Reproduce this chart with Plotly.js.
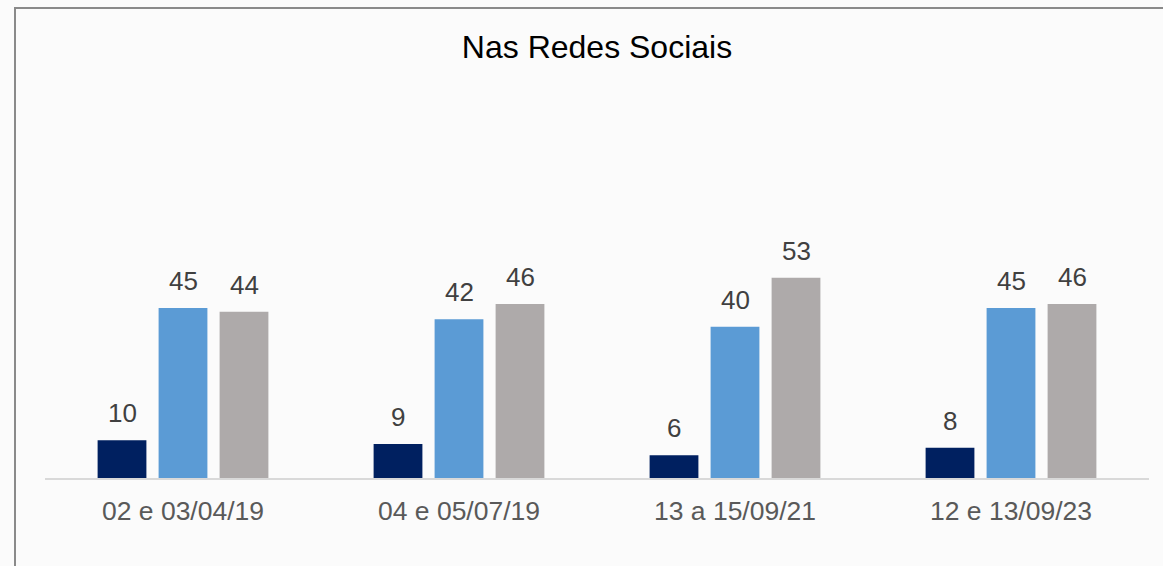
<!DOCTYPE html>
<html>
<head>
<meta charset="utf-8">
<script src="https://cdn.plot.ly/plotly-3.0.1.min.js"></script>
<style>
  html, body { margin: 0; padding: 0; background: #fbfbfb; overflow: hidden; }
  #frame {
    position: absolute; left: 14px; top: 7px;
    width: 1180px; height: 580px;
    border: 2px solid #8a8a8a; background: #fbfbfb;
  }
  #plot { width: 1180px; height: 580px; }
</style>
</head>
<body>
<div id="frame"><div id="plot"></div></div>
<script>
// Categories (survey dates)
const periods = ["02 e 03/04/19", "04 e 05/07/19", "13 a 15/09/21", "12 e 13/09/23"];

// Series values (%)
const serie1 = [10, 9, 6, 8];
const serie2 = [45, 42, 40, 45];
const serie3 = [44, 46, 53, 46];

const series = [serie1, serie2, serie3];
const colors = ["#002060", "#5b9bd5", "#aeaaaa"];

const traces = series.map((vals, j) => ({
    type: "bar",
    x: periods,
    y: vals,
    marker: {color: colors[j]},
    hoverinfo: "y",
    showlegend: false
}));

// data labels above each bar
const slot = 0.221;
const annotations = [];
series.forEach((vals, j) => {
    vals.forEach((v, i) => {
        annotations.push({
            x: i + (j - 1) * slot,
            y: v,
            xref: "x", yref: "y",
            text: String(v),
            showarrow: false,
            yanchor: "bottom",
            yshift: 10,
            font: {family: "Liberation Sans, Arial, sans-serif", size: 26, color: "#404040"}
        });
    });
});

Plotly.newPlot("plot", traces, {
    width: 1180,
    height: 580,
    paper_bgcolor: "#fbfbfb",
    plot_bgcolor: "#fbfbfb",
    margin: {l: 29, r: 47, t: 91, b: 111},
    barmode: "group",
    bargap: 0.337,
    bargroupgap: 0.2,
    title: {
        text: "Nas Redes Sociais",
        x: 0.5, xref: "paper",
        y: 0.934, yref: "container", yanchor: "middle",
        font: {family: "Liberation Sans, Arial, sans-serif", size: 32, color: "#000000"}
    },
    xaxis: {
        type: "category",
        showline: true,
        linecolor: "#d9d9d9",
        linewidth: 2,
        ticks: "",
        ticklen: 0,
        ticklabelstandoff: 8,
        tickfont: {family: "Liberation Sans, Arial, sans-serif", size: 26.5, color: "#595959"},
        showgrid: false,
        zeroline: false,
        fixedrange: true
    },
    yaxis: {
        range: [0, 100],
        visible: false,
        showgrid: false,
        zeroline: false,
        fixedrange: true
    },
    annotations: annotations
}, {displayModeBar: false, staticPlot: true});
</script>
</body>
</html>
